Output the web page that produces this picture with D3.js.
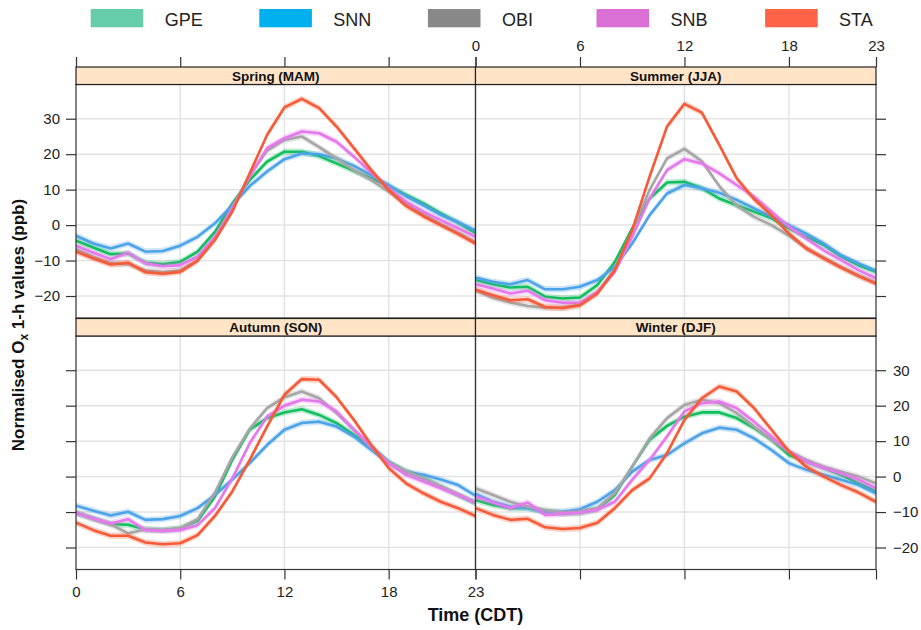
<!DOCTYPE html>
<html>
<head>
<meta charset="utf-8">
<script src="https://cdn.jsdelivr.net/npm/d3@7"></script>
<style>
  body { margin: 0; background: #fff; }
  text { font-family: "Liberation Sans", Arial, sans-serif; }
</style>
</head>
<body>
<svg id="chart" width="921" height="630"></svg>
<script>
const hours = d3.range(0, 24);
const stations = ['GPE', 'SNN', 'OBI', 'SNB', 'STA'];
const seasons = ['Spring (MAM)', 'Summer (JJA)', 'Autumn (SON)', 'Winter (DJF)'];
const legendColors = ['#66CDAA', '#00B0EE', '#888888', '#DA70D6', '#FF6347'];
const lineColors = ['#12BF5E', '#4DA3E8', '#A6A6A6', '#E478EC', '#F65B38'];
const xTicks = [0, 6, 12, 18, 23];
const yTicks = [-20, -10, 0, 10, 20, 30];

// normalised Ox values per hour
const springGPE = [-4.4, -6.3, -8.2, -8.0, -10.6, -11.0, -10.4, -7.5, -1.9, 6.1, 12.7, 17.9, 20.7, 20.7, 19.5, 17.4, 15.3, 13.2, 11.0, 8.5, 6.1, 3.3, 0.7, -2.3];
const springSNN = [-3.0, -5.2, -6.6, -5.2, -7.5, -7.3, -5.8, -3.3, 0.5, 5.6, 11.0, 15.1, 18.6, 20.2, 20.0, 18.8, 16.7, 14.1, 11.3, 8.2, 5.6, 2.9, 0.8, -1.5];
const springOBI = [-6.8, -9.0, -10.8, -11.0, -12.8, -13.3, -12.8, -10.0, -3.8, 5.0, 14.0, 21.0, 24.0, 25.0, 22.0, 18.8, 15.5, 12.7, 9.4, 6.0, 3.0, 0.3, -2.2, -4.8];
const springSNB = [-5.8, -7.8, -9.6, -7.8, -10.8, -11.6, -11.3, -8.9, -3.3, 4.7, 13.7, 21.7, 24.5, 26.4, 25.9, 23.5, 19.3, 14.8, 10.4, 6.6, 3.8, 1.4, -0.9, -3.3];
const springSTA = [-7.5, -9.4, -11.1, -10.6, -13.3, -13.7, -13.2, -10.0, -4.2, 3.8, 14.6, 25.4, 33.2, 35.6, 33.0, 27.8, 21.7, 15.5, 9.9, 5.4, 2.5, 0.0, -2.5, -5.2];

const summerGPE = [-15.5, -16.7, -17.6, -17.4, -20.2, -20.7, -20.4, -16.9, -10.4, -0.9, 7.5, 12.0, 12.2, 10.4, 7.5, 5.6, 3.8, 1.9, -0.9, -3.3, -5.6, -8.9, -11.3, -13.2];
const summerSNN = [-14.8, -16.0, -16.7, -15.5, -18.1, -18.1, -17.4, -15.5, -11.8, -5.2, 2.8, 8.9, 11.3, 10.4, 9.1, 7.1, 4.7, 2.4, 0.0, -2.4, -5.2, -8.5, -10.8, -12.9];
const summerOBI = [-18.4, -20.5, -21.8, -22.8, -23.3, -23.3, -22.5, -19.0, -12.5, -1.5, 9.9, 18.8, 21.5, 18.0, 11.0, 5.5, 2.3, 0.0, -3.0, -6.5, -9.2, -11.8, -14.2, -16.3];
const summerSNB = [-16.7, -17.9, -19.3, -18.5, -21.2, -21.9, -21.9, -18.8, -13.2, -3.3, 7.5, 15.5, 18.6, 17.4, 14.6, 11.3, 8.0, 3.8, -0.5, -3.8, -7.1, -9.9, -12.7, -15.0];
const summerSTA = [-18.2, -19.8, -21.2, -20.9, -23.1, -23.4, -22.6, -19.3, -12.7, -1.4, 13.7, 27.8, 34.2, 31.7, 22.6, 13.2, 7.3, 2.8, -2.4, -6.6, -9.4, -12.0, -14.4, -16.5];

const autumnGPE = [-10.2, -11.8, -13.4, -13.6, -14.9, -15.1, -14.6, -12.5, -5.6, 4.7, 13.2, 16.5, 18.1, 19.0, 17.4, 15.1, 11.8, 8.5, 4.2, 1.4, -0.5, -2.8, -5.2, -7.5];
const autumnSNN = [-8.2, -9.6, -11.0, -9.9, -12.2, -12.0, -11.1, -8.9, -5.2, -0.8, 3.8, 8.9, 13.2, 15.1, 15.5, 14.1, 11.3, 7.5, 3.8, 1.4, 0.5, -0.8, -2.4, -5.4];
const autumnOBI = [-10.2, -12.0, -13.5, -16.0, -14.9, -15.1, -14.6, -12.0, -4.5, 5.5, 13.5, 19.3, 22.4, 24.0, 22.1, 17.9, 13.2, 8.5, 4.0, 1.5, -0.5, -2.8, -5.0, -7.3];
const autumnSNB = [-10.2, -11.8, -13.2, -12.0, -15.1, -15.3, -15.1, -13.7, -8.9, -0.5, 9.4, 16.9, 20.0, 21.7, 21.2, 18.4, 13.2, 8.5, 3.8, 0.5, -1.4, -3.3, -5.2, -7.3];
const autumnSTA = [-13.0, -15.1, -16.7, -16.7, -18.6, -19.1, -18.8, -16.5, -11.1, -4.2, 4.7, 14.1, 23.1, 27.5, 27.3, 22.4, 16.0, 8.9, 2.4, -1.9, -4.7, -7.1, -8.9, -11.1];

const winterGPE = [-6.6, -8.0, -8.9, -8.8, -9.9, -10.4, -10.2, -9.2, -5.2, 2.8, 10.4, 14.3, 16.9, 18.1, 18.1, 16.5, 13.7, 10.4, 6.1, 4.2, 2.4, 0.5, -1.9, -4.2];
const winterSNN = [-4.9, -7.1, -8.5, -8.9, -9.9, -9.9, -9.2, -7.1, -3.8, 1.4, 4.7, 6.1, 9.4, 12.2, 13.8, 13.2, 10.8, 7.5, 3.8, 1.9, 0.5, -0.9, -2.4, -4.7];
const winterOBI = [-3.3, -5.2, -7.1, -8.5, -9.4, -10.2, -9.9, -8.9, -4.7, 2.8, 10.8, 16.5, 20.2, 21.7, 20.7, 17.9, 14.1, 10.4, 7.1, 4.7, 2.8, 1.4, 0.0, -1.9];
const winterSNB = [-5.6, -7.3, -8.9, -7.3, -10.8, -10.5, -10.2, -9.4, -7.1, -0.9, 4.7, 11.3, 18.4, 20.7, 21.2, 19.3, 15.5, 11.3, 7.1, 4.2, 2.4, 0.9, -0.9, -3.3];
const winterSTA = [-8.9, -10.8, -12.2, -11.9, -14.3, -14.8, -14.5, -13.0, -8.9, -3.8, -0.5, 6.6, 16.0, 22.1, 25.4, 24.0, 19.3, 13.2, 7.1, 2.8, 0.0, -2.4, -4.5, -7.1];

const seasonSeries = [
  [springGPE, springSNN, springOBI, springSNB, springSTA],
  [summerGPE, summerSNN, summerOBI, summerSNB, summerSTA],
  [autumnGPE, autumnSNN, autumnOBI, autumnSNB, autumnSTA],
  [winterGPE, winterSNN, winterOBI, winterSNB, winterSTA]
];
const ciHalf = 0.9;

const svg = d3.select('#chart');

const cols = [[76, 475.5], [475.5, 876]];
const rows = [[84.5, 318], [336, 569.5]];
const stripH = 17.5;
const yDomain = [-26.2, 39.65];
const axisColor = '#333';

// legend
const legendX = d3.scaleLinear().domain([0, 4]).range([90.7, 765.1]);
const legend = svg.append('g');
stations.forEach((s, i) => {
  legend.append('rect')
      .attr('x', legendX(i)).attr('y', 9)
      .attr('width', 52.6).attr('height', 18.3)
      .attr('fill', legendColors[i]);
  legend.append('text')
      .attr('x', legendX(i) + 74).attr('y', 25.5)
      .attr('font-size', 18).attr('fill', '#222')
      .text(s);
});

seasons.forEach((season, p) => {
  const c = p % 2, r = Math.floor(p / 2);
  const x = d3.scaleLinear().domain([0, 23]).range(cols[c]);
  const y = d3.scaleLinear().domain(yDomain).range([rows[r][1], rows[r][0]]);
  const g = svg.append('g');

  g.append('clipPath').attr('id', 'clip' + p)
    .append('rect')
      .attr('x', cols[c][0]).attr('y', rows[r][0])
      .attr('width', cols[c][1] - cols[c][0]).attr('height', rows[r][1] - rows[r][0]);

  // grid
  g.selectAll('.vg').data([6, 12, 18]).enter().append('line')
      .attr('x1', d => x(d)).attr('x2', d => x(d))
      .attr('y1', rows[r][0]).attr('y2', rows[r][1])
      .attr('stroke', '#e3e3e3').attr('stroke-width', 1.5);
  g.selectAll('.hg').data(yTicks).enter().append('line')
      .attr('x1', cols[c][0]).attr('x2', cols[c][1])
      .attr('y1', d => y(d)).attr('y2', d => y(d))
      .attr('stroke', '#e3e3e3').attr('stroke-width', 1.5);

  const plot = g.append('g').attr('clip-path', `url(#clip${p})`);
  const area = d3.area()
      .x((d, i) => x(hours[i]))
      .y0(d => y(d - ciHalf))
      .y1(d => y(d + ciHalf));
  const line = d3.line()
      .x((d, i) => x(hours[i]))
      .y(d => y(d));

  seasonSeries[p].forEach((vals, k) => {
    plot.append('path')
        .attr('d', area(vals))
        .attr('fill', lineColors[k])
        .attr('fill-opacity', 0.28);
    plot.append('path')
        .attr('d', line(vals))
        .attr('fill', 'none')
        .attr('stroke', lineColors[k])
        .attr('stroke-width', 2.6)
        .attr('stroke-linejoin', 'round');
  });

  // panel border
  g.append('rect')
      .attr('x', cols[c][0]).attr('y', rows[r][0])
      .attr('width', cols[c][1] - cols[c][0]).attr('height', rows[r][1] - rows[r][0])
      .attr('fill', 'none').attr('stroke', axisColor).attr('stroke-width', 1.2);

  // strip
  g.append('rect')
      .attr('x', cols[c][0]).attr('y', rows[r][0] - stripH)
      .attr('width', cols[c][1] - cols[c][0]).attr('height', stripH)
      .attr('fill', '#FFE4C8').attr('stroke', '#222').attr('stroke-width', 1.2);
  g.append('text')
      .attr('x', (cols[c][0] + cols[c][1]) / 2).attr('y', rows[r][0] - 4)
      .attr('text-anchor', 'middle')
      .attr('font-size', 13.5).attr('font-weight', 'bold').attr('fill', '#111')
      .text(season);

  // axes
  function styleAxis(sel) {
    sel.select('.domain').remove();
    sel.selectAll('.tick line').attr('stroke', axisColor).attr('stroke-width', 1.2);
    sel.selectAll('.tick text').attr('fill', '#222').attr('font-size', 15)
        .attr('font-family', '"Liberation Sans", Arial, sans-serif');
  }
  if (r === 0) {
    const top = d3.axisTop(x).tickValues(xTicks).tickSize(10).tickPadding(6);
    if (c === 0) top.tickFormat('');
    g.append('g').attr('transform', `translate(0,${rows[0][0] - stripH})`).call(top).call(styleAxis);
  } else {
    const bottom = d3.axisBottom(x).tickValues(xTicks).tickSize(10).tickPadding(7);
    if (c === 1) bottom.tickFormat('');
    g.append('g').attr('transform', `translate(0,${rows[1][1]})`).call(bottom).call(styleAxis);
  }
  if (c === 0) {
    const left = d3.axisLeft(y).tickValues(yTicks).tickSize(10).tickPadding(6)
        .tickFormat(d => String(d).replace('-', '\u2212'));
    if (r === 1) left.tickFormat('');
    g.append('g').attr('transform', `translate(${cols[0][0]},0)`).call(left).call(styleAxis);
  } else {
    const right = d3.axisRight(y).tickValues(yTicks).tickSize(10).tickPadding(7)
        .tickFormat(d => String(d).replace('-', '\u2212'));
    if (r === 0) right.tickFormat('');
    g.append('g').attr('transform', `translate(${cols[1][1]},0)`).call(right).call(styleAxis);
  }
});

// axis titles
svg.append('text')
    .attr('x', cols[0][1]).attr('y', 621)
    .attr('text-anchor', 'middle')
    .attr('font-size', 18).attr('font-weight', 'bold').attr('fill', '#111')
    .text('Time (CDT)');

const yTitle = svg.append('text')
    .attr('transform', 'translate(24,325) rotate(-90)')
    .attr('text-anchor', 'middle')
    .attr('font-size', 17).attr('font-weight', 'bold').attr('fill', '#111');
yTitle.append('tspan').text('Normalised O');
yTitle.append('tspan').attr('font-size', 12).attr('dy', 4).text('x');
yTitle.append('tspan').attr('dy', -4).text(' 1-h values (ppb)');
</script>
</body>
</html>
